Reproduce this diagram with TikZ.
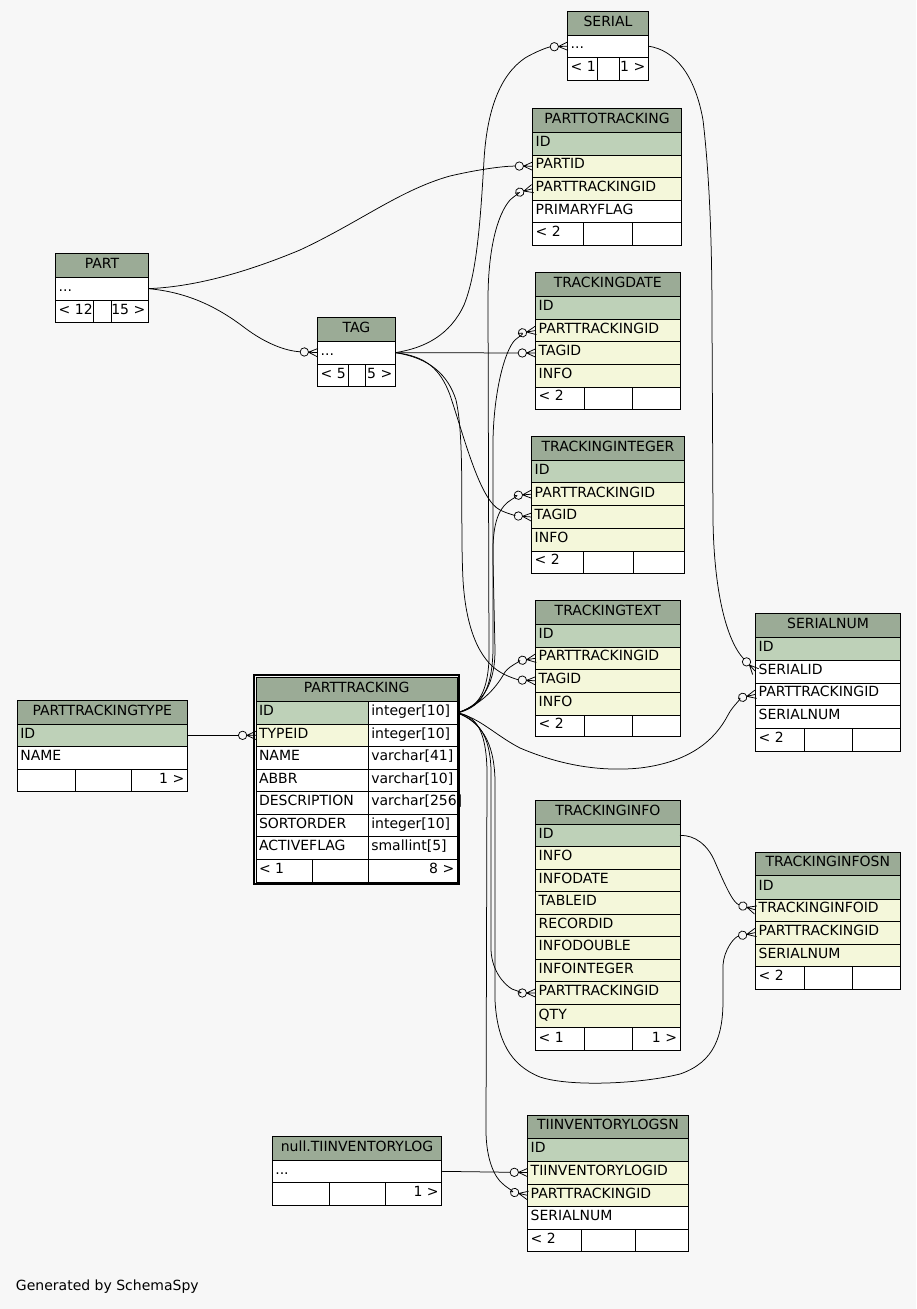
\documentclass[tikz,border=0pt]{standalone}
\usepackage{fontspec}
\setmainfont{DejaVu Sans}
\usetikzlibrary{calc}
\definecolor{bg}{HTML}{F7F7F7}
\definecolor{hd}{HTML}{9BAB96}
\definecolor{pk}{HTML}{BED1B8}
\definecolor{ix}{HTML}{F4F7DA}

\pgfdeclarearrow{
  name = CrowOdot,
  setup code = {
    \pgfarrowssettipend{0pt}
    \pgfarrowssetlineend{-17.4pt}
    \pgfarrowssetbackend{-17.8pt}
    \pgfarrowssetvisualbackend{-17.8pt}
    \pgfarrowshullpoint{0pt}{4.2pt}
    \pgfarrowshullpoint{0pt}{-4.2pt}
    \pgfarrowshullpoint{-17.8pt}{0pt}
  },
  drawing code = {
    \pgfsetdash{}{0pt}
    \pgfpathcircle{\pgfqpoint{-13.4pt}{0pt}}{4.2pt}
    \pgfusepathqstroke
    \pgfpathmoveto{\pgfqpoint{-9.2pt}{0pt}}
    \pgfpathlineto{\pgfqpoint{0pt}{4.2pt}}
    \pgfpathmoveto{\pgfqpoint{-9.2pt}{0pt}}
    \pgfpathlineto{\pgfqpoint{0pt}{0pt}}
    \pgfpathmoveto{\pgfqpoint{-9.2pt}{0pt}}
    \pgfpathlineto{\pgfqpoint{0pt}{-4.2pt}}
    \pgfusepathqstroke
  }
}

\tikzset{
  cellbox/.style={shape=rectangle, draw=black, line width=0.9pt, anchor=north west, inner sep=0pt, outer sep=0pt},
  celltext/.style={inner sep=0pt, outer sep=0pt, text=black, font=\fontsize{14pt}{16pt}\selectfont},
  fk/.style={draw=black, line width=0.75pt, arrows={-CrowOdot}},
  rel/.style={draw=black, line width=0.75pt}
}

% cell: name, x1, y1, x2, y2, fill
\newcommand\TCell[6]{\node[cellbox, fill=#6, minimum width={#4pt-#2pt}, minimum height={#5pt-#3pt}] (#1) at (#2,#3) {};}
\newcommand\TL[2]{\node[celltext, anchor=base west] (#1-t) at ($(#1.south west)+(3pt,8.4pt)$) {#2};}
\newcommand\TR[2]{\node[celltext, anchor=base east] (#1-t) at ($(#1.south east)+(-3pt,8.4pt)$) {#2};}
\newcommand\TC[2]{\node[celltext, anchor=base] (#1-t) at ($(#1.south)+(0pt,9pt)$) {#2};}
\newcommand\TRow[7]{\TCell{#1}{#2}{#3}{#4}{#5}{#6}\TL{#1}{#7}}
\newcommand\THead[6]{\TCell{#1}{#2}{#3}{#4}{#5}{hd}\TC{#1}{#6}}
% footer: name, x1, s1, s2, x2, y1, y2, left text, right text
\newcommand\TFoot[9]{%
  \TCell{#1-a}{#2}{#6}{#3}{#7}{white}\TL{#1-a}{#8}%
  \TCell{#1-b}{#3}{#6}{#4}{#7}{white}%
  \TCell{#1-c}{#4}{#6}{#5}{#7}{white}\TR{#1-c}{#9}}

\begin{document}
\begin{tikzpicture}[x=1pt, y=-1pt]
\fill[bg] (0,0) rectangle (916,1309);
\useasboundingbox (0,0) rectangle (916,1309);

% SERIAL
\THead{serial-h}{567.7}{11.7}{648.3}{35}{SERIAL}
\TRow{serial-r1}{567.7}{35}{648.3}{57.3}{white}{...}
\TFoot{serial-f}{567.7}{597.3}{619.3}{648.3}{57.3}{80}{< 1}{1 >}

% PARTTOTRACKING
\THead{ptt-h}{532.7}{108.3}{681.3}{132.3}{PARTTOTRACKING}
\TRow{ptt-id}{532.7}{132.3}{681.3}{155}{pk}{ID}
\TRow{ptt-partid}{532.7}{155}{681.3}{177.3}{ix}{PARTID}
\TRow{ptt-ptid}{532.7}{177.3}{681.3}{200}{ix}{PARTTRACKINGID}
\TRow{ptt-pflag}{532.7}{200}{681.3}{222.7}{white}{PRIMARYFLAG}
\TFoot{ptt-f}{532.7}{583.3}{632.3}{681.3}{222.7}{245}{< 2}{}

% PART
\THead{part-h}{55.7}{253.3}{148.3}{277.3}{PART}
\TRow{part-r1}{55.7}{277.3}{148.3}{300}{white}{...}
\TFoot{part-f}{55.7}{93.3}{111.7}{148.3}{300}{322.7}{< 12}{15 >}

% TAG
\THead{tag-h}{317.7}{317.3}{395.3}{341.3}{TAG}
\TRow{tag-r1}{317.7}{341.3}{395.3}{364}{white}{...}
\TFoot{tag-f}{317.7}{348.7}{365.7}{395.3}{364}{386.7}{< 5}{5 >}

% TRACKINGDATE
\THead{td-h}{535.7}{272.7}{680}{296.7}{TRACKINGDATE}
\TRow{td-id}{535.7}{296.7}{680}{319.3}{pk}{ID}
\TRow{td-ptid}{535.7}{319.3}{680}{341.7}{ix}{PARTTRACKINGID}
\TRow{td-tagid}{535.7}{341.7}{680}{364.3}{ix}{TAGID}
\TRow{td-info}{535.7}{364.3}{680}{387.3}{ix}{INFO}
\TFoot{td-f}{535.7}{584.3}{632.3}{680}{387.3}{409}{< 2}{}

% TRACKINGINTEGER
\THead{ti-h}{531.7}{436.7}{684.3}{460}{TRACKINGINTEGER}
\TRow{ti-id}{531.7}{460}{684.3}{482.7}{pk}{ID}
\TRow{ti-ptid}{531.7}{482.7}{684.3}{505.7}{ix}{PARTTRACKINGID}
\TRow{ti-tagid}{531.7}{505.7}{684.3}{528.3}{ix}{TAGID}
\TRow{ti-info}{531.7}{528.3}{684.3}{551}{ix}{INFO}
\TFoot{ti-f}{531.7}{583.3}{633.3}{684.3}{551}{573.3}{< 2}{}

% TRACKINGTEXT
\THead{tt-h}{535.7}{600.7}{680}{624.3}{TRACKINGTEXT}
\TRow{tt-id}{535.7}{624.3}{680}{647.3}{pk}{ID}
\TRow{tt-ptid}{535.7}{647.3}{680}{669.3}{ix}{PARTTRACKINGID}
\TRow{tt-tagid}{535.7}{669.3}{680}{692.3}{ix}{TAGID}
\TRow{tt-info}{535.7}{692.3}{680}{715}{ix}{INFO}
\TFoot{tt-f}{535.7}{584.3}{632.3}{680}{715}{736.7}{< 2}{}

% SERIALNUM
\THead{sn-h}{755.7}{613.3}{900.3}{637.3}{SERIALNUM}
\TRow{sn-id}{755.7}{637.3}{900.3}{660}{pk}{ID}
\TRow{sn-serialid}{755.7}{660}{900.3}{683.3}{white}{SERIALID}
\TRow{sn-ptid}{755.7}{683.3}{900.3}{705.3}{white}{PARTTRACKINGID}
\TRow{sn-serialnum}{755.7}{705.3}{900.3}{728.3}{white}{SERIALNUM}
\TFoot{sn-f}{755.7}{804.3}{852.3}{900.3}{728.3}{751}{< 2}{}

% PARTTRACKINGTYPE
\THead{ptype-h}{17.3}{700.7}{187.3}{724}{PARTTRACKINGTYPE}
\TRow{ptype-id}{17.3}{724}{187.3}{746.7}{pk}{ID}
\TRow{ptype-name}{17.3}{746.7}{187.3}{769}{white}{NAME}
\TFoot{ptype-f}{17.3}{75.7}{131.7}{187.3}{769}{791.7}{}{1 >}

% PARTTRACKING
\draw[line width=2pt] (254.3,675.3) rectangle (459.3,884.3);
\THead{pt-h}{256}{677.3}{457.3}{701.7}{PARTTRACKING}
\TRow{pt-id}{256}{701.7}{368.3}{724}{pk}{ID}
\TRow{pt-idt}{368.3}{701.7}{457.3}{724}{white}{integer[10]}
\TRow{pt-typeid}{256}{724}{368.3}{746.7}{ix}{TYPEID}
\TRow{pt-typeidt}{368.3}{724}{457.3}{746.7}{white}{integer[10]}
\TRow{pt-name}{256}{746.7}{368.3}{769}{white}{NAME}
\TRow{pt-namet}{368.3}{746.7}{457.3}{769}{white}{varchar[41]}
\TRow{pt-abbr}{256}{769}{368.3}{791.7}{white}{ABBR}
\TRow{pt-abbrt}{368.3}{769}{457.3}{791.7}{white}{varchar[10]}
\TRow{pt-desc}{256}{791.7}{368.3}{814}{white}{DESCRIPTION}
\TRow{pt-desct}{368.3}{791.7}{457.3}{814}{white}{varchar[256]}
\TRow{pt-sort}{256}{814}{368.3}{836.7}{white}{SORTORDER}
\TRow{pt-sortt}{368.3}{814}{457.3}{836.7}{white}{integer[10]}
\TRow{pt-act}{256}{836.7}{368.3}{859}{white}{ACTIVEFLAG}
\TRow{pt-actt}{368.3}{836.7}{457.3}{859}{white}{smallint[5]}
\TFoot{pt-f}{256}{312.7}{368.3}{457.3}{859}{882.3}{< 1}{8 >}

% TRACKINGINFO
\THead{tinfo-h}{535.7}{800.7}{680}{824}{TRACKINGINFO}
\TRow{tinfo-id}{535.7}{824}{680}{846.7}{pk}{ID}
\TRow{tinfo-info}{535.7}{846.7}{680}{869}{ix}{INFO}
\TRow{tinfo-date}{535.7}{869}{680}{891.7}{ix}{INFODATE}
\TRow{tinfo-table}{535.7}{891.7}{680}{914}{ix}{TABLEID}
\TRow{tinfo-rec}{535.7}{914}{680}{936.7}{ix}{RECORDID}
\TRow{tinfo-dbl}{535.7}{936.7}{680}{959.3}{ix}{INFODOUBLE}
\TRow{tinfo-int}{535.7}{959.3}{680}{981.7}{ix}{INFOINTEGER}
\TRow{tinfo-ptid}{535.7}{981.7}{680}{1004.3}{ix}{PARTTRACKINGID}
\TRow{tinfo-qty}{535.7}{1004.3}{680}{1027.7}{ix}{QTY}
\TFoot{tinfo-f}{535.7}{584.3}{632.7}{680}{1027.7}{1050.7}{< 1}{1 >}

% TRACKINGINFOSN
\THead{tisn-h}{755.7}{852.3}{900}{875.7}{TRACKINGINFOSN}
\TRow{tisn-id}{755.7}{875.7}{900}{899}{pk}{ID}
\TRow{tisn-tiid}{755.7}{899}{900}{921}{ix}{TRACKINGINFOID}
\TRow{tisn-ptid}{755.7}{921}{900}{944}{ix}{PARTTRACKINGID}
\TRow{tisn-sn}{755.7}{944}{900}{966.7}{ix}{SERIALNUM}
\TFoot{tisn-f}{755.7}{804.3}{852.3}{900}{966.7}{989}{< 2}{}

% null.TIINVENTORYLOG
\THead{til-h}{272.3}{1136.7}{441.7}{1160}{null.TIINVENTORYLOG}
\TRow{til-r1}{272.3}{1160}{441.7}{1182.7}{white}{...}
\TFoot{til-f}{272.3}{329.3}{385.7}{441.7}{1182.7}{1205}{}{1 >}

% TIINVENTORYLOGSN
\THead{tilsn-h}{527.7}{1115}{688.3}{1138.3}{TIINVENTORYLOGSN}
\TRow{tilsn-id}{527.7}{1138.3}{688.3}{1161}{pk}{ID}
\TRow{tilsn-tilid}{527.7}{1161}{688.3}{1184}{ix}{TIINVENTORYLOGID}
\TRow{tilsn-ptid}{527.7}{1184}{688.3}{1206.7}{ix}{PARTTRACKINGID}
\TRow{tilsn-sn}{527.7}{1206.7}{688.3}{1229}{white}{SERIALNUM}
\TFoot{tilsn-f}{527.7}{581}{635.7}{688.3}{1229}{1251.7}{< 2}{}

\node[celltext, anchor=base west] (gen) at (16,1290) {Generated by SchemaSpy};

% ---------- connectors ----------
% SERIAL -> SERIALNUM.SERIALID
\draw[fk] (serial-r1.east) .. controls (675,50) and (695,75) .. (703,120)
  .. controls (710,180) and (712,250) .. (712,320) -- (713,520)
  .. controls (714,590) and (726,640) .. (sn-serialid.west);
% TAG -> SERIAL
\draw[fk] (tag-r1.east) .. controls (425,348) and (450,335) .. (464,305)
  .. controls (476,275) and (480,230) .. (484,160)
  .. controls (487,110) and (500,75) .. (525,58)
  .. controls (535,52) and (548,47) .. (serial-r1.west);
% PART -> PARTTOTRACKING.PARTID
\draw[fk] (part-r1.east) .. controls (190,287) and (240,275) .. (300,250)
  .. controls (360,222) and (400,190) .. (450,176)
  .. controls (480,169) and (505,166) .. (ptt-partid.west);
% PART -> TAG
\draw[fk] (part-r1.east) .. controls (185,292) and (215,305) .. (245,328)
  .. controls (265,343) and (285,351) .. (tag-r1.west);
% TAG -> TRACKINGDATE.TAGID
\draw[fk] (tag-r1.east) -- (td-tagid.west);
% TAG -> TRACKINGINTEGER.TAGID
\draw[fk] (tag-r1.east) .. controls (425,356) and (440,368) .. (450,395)
  .. controls (465,440) and (480,500) .. (500,510)
  .. controls (508,514) and (518,516) .. (ti-tagid.west);
% TAG -> TRACKINGTEXT.TAGID
\draw[fk] (tag-r1.east) .. controls (430,358) and (448,375) .. (456,400)
  .. controls (465,440) and (460,520) .. (463,580)
  .. controls (466,630) and (480,660) .. (500,672)
  .. controls (510,678) and (520,680) .. (tt-tagid.west);
% PARTTRACKING.ID -> PARTTOTRACKING.PARTTRACKINGID
\draw[fk] (pt-idt.east) .. controls (475,708) and (487,698) .. (489,660) -- (488,300)
  .. controls (488,250) and (497,215) .. (510,200)
  .. controls (515,195) and (524,191) .. (ptt-ptid.west);
% PARTTRACKING.ID -> TRACKINGDATE.PARTTRACKINGID
\draw[fk] (pt-idt.east) .. controls (478,708) and (492,695) .. (493,650) -- (493,440)
  .. controls (494,390) and (505,350) .. (515,340)
  .. controls (521,335) and (527,332) .. (td-ptid.west);
% PARTTRACKING.ID -> TRACKINGINTEGER.PARTTRACKINGID
\draw[fk] (pt-idt.east) .. controls (478,706) and (495,690) .. (495,650) -- (493,560)
  .. controls (492,525) and (498,510) .. (508,502)
  .. controls (513,498) and (521,495) .. (ti-ptid.west);
% PARTTRACKING.ID -> TRACKINGTEXT.PARTTRACKINGID
\draw[fk] (pt-idt.east) .. controls (480,705) and (495,690) .. (505,672)
  .. controls (510,665) and (524,660) .. (tt-ptid.west);
% PARTTRACKING.ID -> SERIALNUM.PARTTRACKINGID
\draw[fk] (pt-idt.east) .. controls (480,718) and (495,735) .. (520,748)
  .. controls (560,765) and (600,772) .. (640,768)
  .. controls (690,762) and (715,740) .. (728,715)
  .. controls (733,705) and (744,697) .. (sn-ptid.west);
% TRACKINGINFO.ID -> TRACKINGINFOSN.TRACKINGINFOID
\draw[fk] (tinfo-id.east) .. controls (695,835) and (708,845) .. (715,862)
  .. controls (725,885) and (733,903) .. (tisn-tiid.west);
% PARTTRACKING.ID -> TRACKINGINFO.PARTTRACKINGID
\draw[fk] (pt-idt.east) .. controls (478,720) and (490,735) .. (491,770) -- (491,950)
  .. controls (492,972) and (505,985) .. (512,989)
  .. controls (517,991) and (525,993) .. (tinfo-ptid.west);
% PARTTRACKING.ID -> TRACKINGINFOSN.PARTTRACKINGID
\draw[fk] (pt-idt.east) .. controls (480,722) and (494,740) .. (495,780) -- (495,1000)
  .. controls (497,1040) and (510,1065) .. (540,1077)
  .. controls (570,1087) and (640,1084) .. (680,1074)
  .. controls (715,1062) and (723,1035) .. (723,1000) -- (723,965)
  .. controls (724,950) and (734,937) .. (tisn-ptid.west);
% null.TIINVENTORYLOG -> TIINVENTORYLOGSN.TIINVENTORYLOGID
\draw[fk] (til-r1.east) -- (tilsn-tilid.west);
% PARTTRACKING.ID -> TIINVENTORYLOGSN.PARTTRACKINGID
\draw[fk] (pt-idt.east) .. controls (476,716) and (486,730) .. (487,770) -- (486,1130)
  .. controls (486,1160) and (495,1178) .. (503,1184)
  .. controls (507,1188) and (517,1193) .. (tilsn-ptid.west);
% PARTTRACKINGTYPE.ID -> PARTTRACKING.TYPEID
\draw[fk] (ptype-id.east) -- (pt-typeid.west);
\end{tikzpicture}
\end{document}
